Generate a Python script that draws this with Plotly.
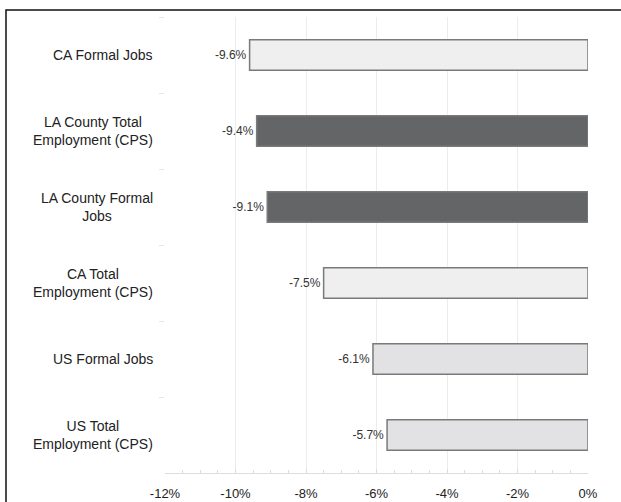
import plotly.graph_objects as go

categories = [
    "CA Formal Jobs",
    "LA County Total<br>Employment (CPS)",
    "LA County Formal<br>Jobs",
    "CA Total<br>Employment (CPS)",
    "US Formal Jobs",
    "US Total<br>Employment (CPS)",
]
changes = [-9.6, -9.4, -9.1, -7.5, -6.1, -5.7]
bar_colors = ["#efefef", "#646567", "#646567", "#efefef", "#e2e2e4", "#e2e2e4"]
tick_vals = [-12, -10, -8, -6, -4, -2, 0]
tick_text = ["-12%", "-10%", "-8%", "-6%", "-4%", "-2%", "0%"]

FONT = "Liberation Sans, Arial"

fig = go.Figure(
    go.Bar(
        x=changes,
        y=categories,
        orientation="h",
        width=0.4,
        marker=dict(color=bar_colors, line=dict(color="#7a7a7a", width=1.5)),
        text=[f"{v:.1f}%" for v in changes],
        textposition="outside",
        textfont=dict(size=12, color="#333333", family=FONT),
        cliponaxis=False,
    )
)

# Category labels: right-edge anchored blocks with centred lines
annotations = [
    dict(
        x=0,
        xref="paper",
        y=cat,
        yref="y",
        text=cat,
        showarrow=False,
        xanchor="right",
        yanchor="middle",
        align="center",
        xshift=-10,
        font=dict(size=14, color="#222222", family=FONT),
    )
    for cat in categories
]

fig.update_layout(
    width=621,
    height=502,
    margin=dict(l=165, r=33, t=17, b=29),
    paper_bgcolor="white",
    plot_bgcolor="white",
    showlegend=False,
    font=dict(family=FONT, color="#222222"),
    annotations=annotations,
    xaxis=dict(
        range=[-12, 0],
        tickvals=tick_vals,
        ticktext=tick_text,
        tickfont=dict(size=13, color="#222222"),
        showgrid=True,
        gridcolor="#ececec",
        gridwidth=1,
        zeroline=False,
        showline=True,
        linecolor="#dddddd",
        ticks="inside",
        ticklen=4,
        tickcolor="#dddddd",
        minor=dict(dtick=0.5, ticks="inside", ticklen=3, tickcolor="#dddddd", showgrid=False),
        ticklabelstandoff=8,
        automargin=False,
    ),
    yaxis=dict(
        autorange="reversed",
        showticklabels=False,
        showgrid=False,
        showline=False,
        ticks="outside",
        tickson="boundaries",
        ticklen=5,
        tickcolor="#e6e6e6",
        automargin=False,
    ),
    shapes=[
        dict(
            type="rect",
            xref="paper",
            yref="paper",
            x0=(6 - 165) / 423,
            x1=(640 - 165) / 423,
            y0=(473 - 520) / 456,
            y1=(473 - 10) / 456,
            line=dict(color="#111111", width=1.5),
            fillcolor="rgba(0,0,0,0)",
            layer="below",
        )
    ],
)

fig.write_html("out.html")
